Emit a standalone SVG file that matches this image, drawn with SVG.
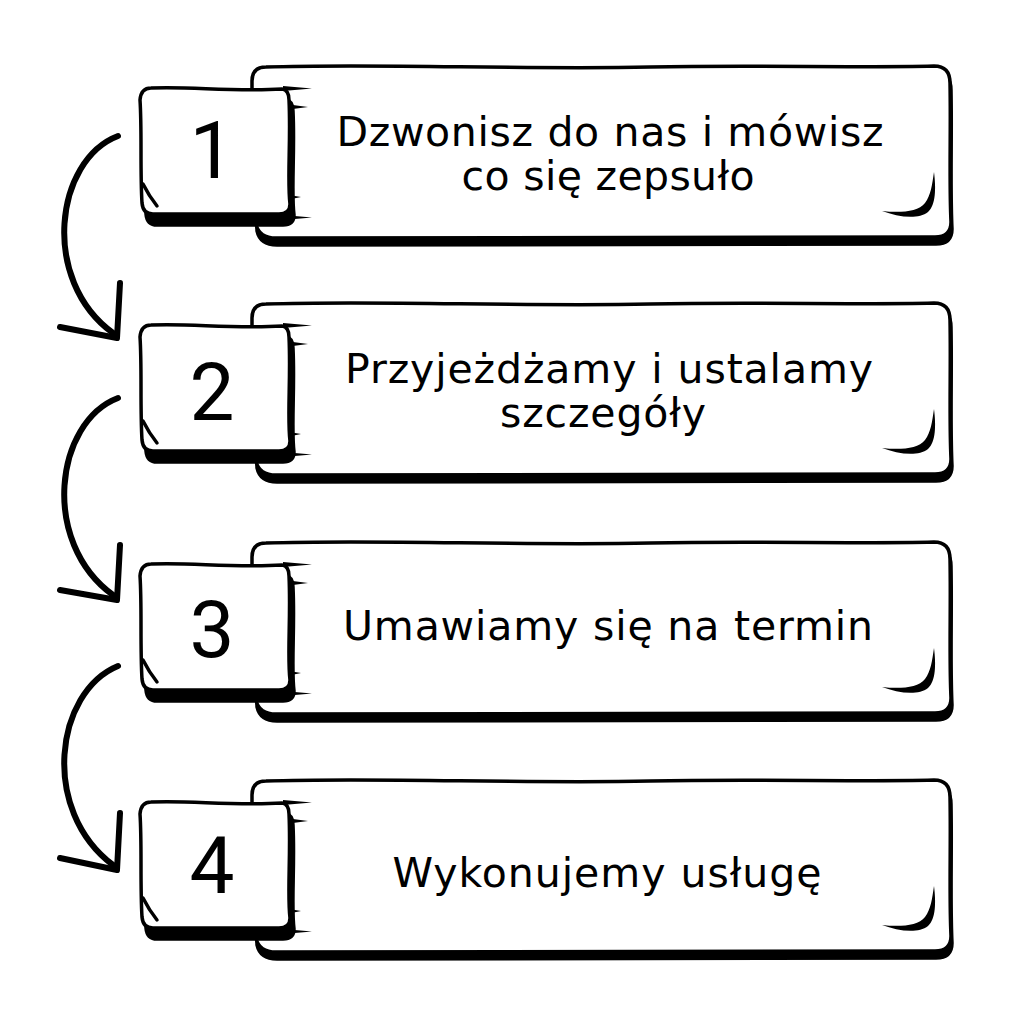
<svg xmlns="http://www.w3.org/2000/svg" xmlns:xlink="http://www.w3.org/1999/xlink" width="1024" height="1024" viewBox="0 0 1024 1024">
<style>
.ln{fill:none;stroke:#000;stroke-width:3.5;stroke-linejoin:round;stroke-linecap:round}
.wh{fill:#fff;stroke:#000;stroke-width:3.5;stroke-linejoin:round}
.bk{fill:#000;stroke:#000;stroke-width:3.5;stroke-linejoin:round}
.num{font-family:Roboto,"Liberation Sans",sans-serif;font-size:80px;fill:#000;text-anchor:middle}
.txt{font-family:"DejaVu Sans","Noto Sans",sans-serif;font-size:41px;fill:#000;text-anchor:middle}
.arr{fill:none;stroke:#000;stroke-width:6;stroke-linecap:round;stroke-linejoin:round}
</style>
<defs>
<path id="big" d="M252,94 L252,81 Q252,67 266,67 C380,63 520,70 650,67 C760,65 860,68 934,66 Q950,66 950,83 C951,130 949,180 951,222 Q951,237 935,237 L276,238 Q259,238 256,224 Z"/>
<path id="sq" d="M151,88 C190,86 230,92 282,89 Q289,90 289,100 C291,140 287,180 290,204 Q290,214 279,214 L153,214 Q143,214 142,203 C140,170 142,130 140,100 Q141,88 151,88 Z"/>
<g id="card">
<use xlink:href="#big" class="bk" transform="translate(1,7)"/>
<use xlink:href="#big" class="wh"/>
<use xlink:href="#sq" class="bk" transform="translate(4,11)"/>
<use xlink:href="#sq" class="wh"/>
<path d="M143,184 Q149,196 157,206" class="ln" stroke-width="2"/>
<polygon points="283,86 283,91 312,88.5"/>
<polygon points="289,104.5 289,109.5 308,107"/>
<polygon points="289,195 289,199.5 301,197"/>
<polygon points="283,215 283,220 312,217.5"/>
<path d="M882,211 C900,213 918,212 925,203 C931,195 932,185 934,172 C936,188 936,205 928,212 C918,220 898,217 882,211 Z"/>
</g>
</defs>
<g id="connectors">
<path class="arr" d="M118,136 C55,160 40,280 113,333"/>
<path class="arr" d="M120,283 L117,338 L60,327"/>
<path class="arr" d="M118,398 C55,422 40,542 113,595"/>
<path class="arr" d="M120,545 L117,600 L60,590"/>
<path class="arr" d="M118,666 C55,692 40,810 113,865"/>
<path class="arr" d="M120,813 L117,870 L60,858"/>
</g>
<g id="node1">
<use xlink:href="#card"/>
<text class="num" x="212" y="178">1</text>
<text class="txt" x="610" y="146" textLength="547" lengthAdjust="spacing">Dzwonisz do nas i mówisz</text>
<text class="txt" x="608" y="190" textLength="293" lengthAdjust="spacing">co się zepsuło</text>
</g>
<g id="node2">
<use xlink:href="#card" transform="translate(0,237)"/>
<text class="num" x="212" y="420">2</text>
<text class="txt" x="609" y="383" textLength="528" lengthAdjust="spacing">Przyjeżdżamy i ustalamy</text>
<text class="txt" x="603" y="427" textLength="206" lengthAdjust="spacing">szczegóły</text>
</g>
<g id="node3">
<use xlink:href="#card" transform="translate(0,476)"/>
<text class="num" x="212" y="657">3</text>
<text class="txt" x="608" y="640" textLength="530" lengthAdjust="spacing">Umawiamy się na termin</text>
</g>
<g id="node4">
<use xlink:href="#card" transform="translate(0,714)"/>
<text class="num" x="212" y="893">4</text>
<text class="txt" x="607" y="887" textLength="429" lengthAdjust="spacing">Wykonujemy usługę</text>
</g>
</svg>
